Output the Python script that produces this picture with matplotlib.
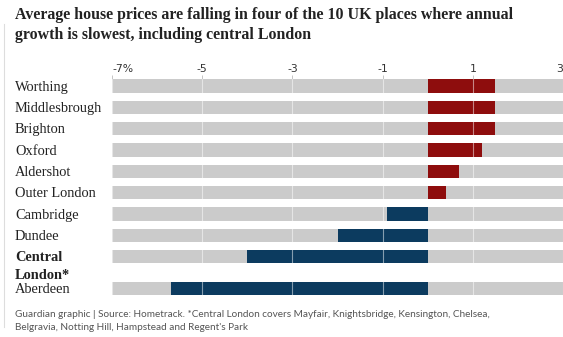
import numpy as np
import matplotlib
matplotlib.use("Agg")
import matplotlib.pyplot as plt
import matplotlib.transforms as mtransforms

places = ["Worthing", "Middlesbrough", "Brighton", "Oxford", "Aldershot",
          "Outer London", "Cambridge", "Dundee", "Central\nLondon*", "Aberdeen"]
growth = [1.5, 1.5, 1.5, 1.2, 0.7, 0.4, -0.9, -2.0, -4.0, -5.7]
tick_vals = [-7, -5, -3, -1, 1, 3]
tick_labels = ["-7%", "-5", "-3", "-1", "1", "3"]

title = ("Average house prices are falling in four of the 10 UK places where annual\n"
         "growth is slowest, including central London")
footer = ("Guardian graphic | Source: Hometrack. *Central London covers Mayfair, Knightsbridge, Kensington, Chelsea,\n"
          "Belgravia, Notting Hill, Hampstead and Regent's Park")

RED = "#8e0d0d"
BLUE = "#0c3b5f"
GREY = "#cbcbcb"
W, H = 563, 337

# row positions: the two-line label pushes the last row down a bit
rows = np.arange(len(places), dtype=float)
rows[-1] += 0.49

fig = plt.figure(figsize=(W / 100, H / 100), dpi=100)
ax = fig.add_axes([112 / W, 1 - 300 / H, 451 / W, (300 - 79) / H])
ax.set_xlim(-7, 3)
ax.set_ylim(10.03, -0.33)

bh = 0.63
ax.barh(rows, [10] * len(rows), left=-7, height=bh, color=GREY, zorder=1)
colors = [RED if g > 0 else BLUE for g in growth]
ax.barh(rows, growth, height=bh, color=colors, zorder=2)

for t in tick_vals:
    ax.axvline(t, color="white", lw=0.8, alpha=0.5, zorder=3)

ax.xaxis.tick_top()
ax.set_xticks(tick_vals)
ax.set_xticklabels(tick_labels, fontsize=7.8, color="#333333", family="DejaVu Sans")
ax.tick_params(axis="x", length=3, width=0.6, color="#bbbbbb", pad=0.5)
ax.get_xticklabels()[0].set_horizontalalignment("left")
ax.get_xticklabels()[-1].set_horizontalalignment("right")
ax.set_yticks([])
for s in ax.spines.values():
    s.set_visible(False)

# row labels, left aligned in figure space
trans = mtransforms.blended_transform_factory(fig.transFigure, ax.transData)
for name, r in zip(places, rows):
    lines = name.split("\n")
    bold = len(lines) > 1
    for k, line in enumerate(lines):
        ax.text(15 / W, r + 0.06 + k * 0.8, line, transform=trans, ha="left", va="center",
                fontsize=10.4, family="Liberation Serif", color="#222222",
                fontweight="bold" if bold else "normal")

fig.text(15 / W, 1 - 7 / H, title, ha="left", va="top", fontsize=11.4,
         family="Liberation Serif", fontweight="bold", color="#222222",
         linespacing=1.35)
fig.text(15 / W, 1 - 310 / H, footer, ha="left", va="top", fontsize=7.2,
         family="Lato", color="#555555", linespacing=1.5)

fig.add_artist(plt.Line2D([4 / W, 4 / W], [0.03, 0.93], transform=fig.transFigure,
                          color="#dddddd", lw=0.8))

fig.savefig("out.png", dpi=100, facecolor="white")
